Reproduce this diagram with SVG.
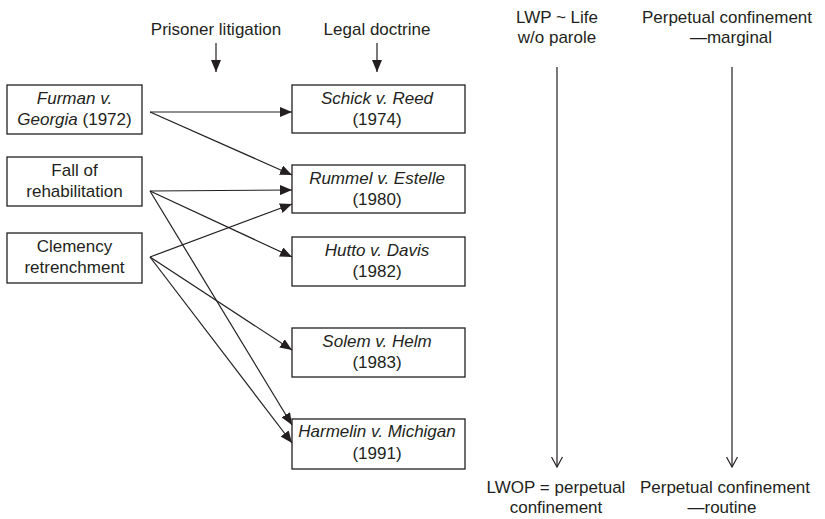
<svg xmlns="http://www.w3.org/2000/svg" width="825" height="519" viewBox="0 0 825 519">
<style>
text{font-family:"Liberation Sans",Arial,sans-serif;font-size:17px;fill:#231f20;text-anchor:middle}
.i{font-style:italic}
rect{fill:#fff;stroke:#231f20;stroke-width:1.3}
.c line{stroke:#231f20;stroke-width:1.2}
</style>
<defs>
<marker id="a" viewBox="0 0 12 10" refX="12" refY="5" markerWidth="12" markerHeight="10" markerUnits="userSpaceOnUse" orient="auto">
<path d="M0,0L12,5L0,10z" fill="#231f20"/>
</marker>
<marker id="o" viewBox="0 0 12 12" refX="6" refY="11" markerWidth="12" markerHeight="12" markerUnits="userSpaceOnUse" orient="0">
<path d="M0.5,1L6,11L11.5,1" fill="none" stroke="#231f20" stroke-width="1.2"/>
</marker>
</defs>
<g id="hdr-prisoner"><text x="216" y="35">Prisoner litigation</text></g>
<g id="hdr-legal"><text x="377" y="35">Legal doctrine</text></g>
<g id="hdr-lwp"><text x="557" y="23">LWP ~ Life</text><text x="557" y="43">w/o parole</text></g>
<g id="hdr-perp"><text x="727" y="23">Perpetual confinement</text><text x="731" y="43">—marginal</text></g>
<g id="ftr-lwop"><text x="556" y="493">LWOP = perpetual</text><text x="556" y="513">confinement</text></g>
<g id="ftr-perp"><text x="725" y="493">Perpetual confinement</text><text x="722" y="513">—routine</text></g>
<g id="furman"><rect x="7" y="85" width="135" height="49"/><text x="74.5" y="104" class="i">Furman v.</text><text x="74.5" y="125"><tspan class="i">Georgia</tspan> (1972)</text></g>
<g id="fall"><rect x="7" y="157" width="135" height="49"/><text x="74.5" y="176">Fall of</text><text x="74.5" y="197">rehabilitation</text></g>
<g id="clemency"><rect x="7" y="233" width="135" height="50"/><text x="74.5" y="252">Clemency</text><text x="74.5" y="273">retrenchment</text></g>
<g id="schick"><rect x="292" y="85" width="173" height="48"/><text x="377" y="104" class="i">Schick v. Reed</text><text x="377" y="125">(1974)</text></g>
<g id="rummel"><rect x="292" y="165" width="173" height="48"/><text x="377" y="184" class="i">Rummel v. Estelle</text><text x="377" y="205">(1980)</text></g>
<g id="hutto"><rect x="292" y="237" width="173" height="49"/><text x="377" y="256" class="i">Hutto v. Davis</text><text x="377" y="277">(1982)</text></g>
<g id="solem"><rect x="292" y="328" width="173" height="49"/><text x="377" y="347" class="i">Solem v. Helm</text><text x="377" y="368">(1983)</text></g>
<g id="harmelin"><rect x="292" y="419" width="173" height="50"/><text x="377" y="437" class="i">Harmelin v. Michigan</text><text x="377" y="459">(1991)</text></g>
<g class="c" id="connectors">
<line x1="216" y1="43" x2="216" y2="72" marker-end="url(#a)"/>
<line x1="377" y1="43" x2="377" y2="72" marker-end="url(#a)"/>
<line x1="150" y1="112" x2="292" y2="112" marker-end="url(#a)"/>
<line x1="150" y1="112" x2="292" y2="175" marker-end="url(#a)"/>
<line x1="150" y1="191" x2="292" y2="190" marker-end="url(#a)"/>
<line x1="150" y1="191" x2="292" y2="257" marker-end="url(#a)"/>
<line x1="150" y1="191" x2="292" y2="425" marker-end="url(#a)"/>
<line x1="150" y1="257" x2="292" y2="204" marker-end="url(#a)"/>
<line x1="150" y1="257" x2="292" y2="350" marker-end="url(#a)"/>
<line x1="150" y1="257" x2="292" y2="443" marker-end="url(#a)"/>
<line x1="557" y1="67" x2="557" y2="467" marker-end="url(#o)"/>
<line x1="732" y1="67" x2="732" y2="467" marker-end="url(#o)"/>
</g>
</svg>
